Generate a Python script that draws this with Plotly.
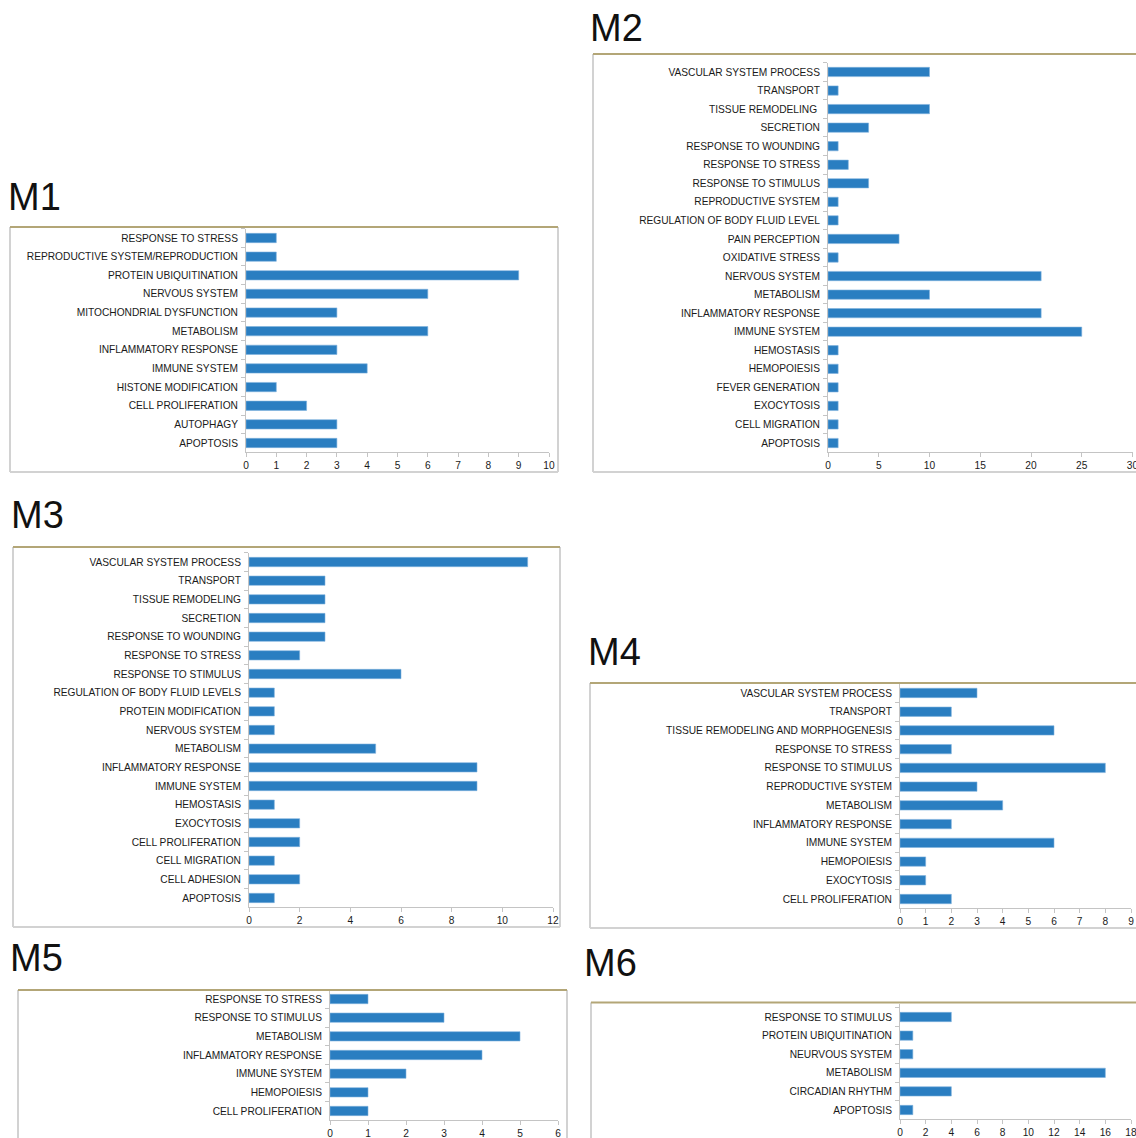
import plotly.graph_objects as go

W, H = 1136, 1138

# ---------------- data (top-to-bottom order as displayed) ----------------
m1_labels = ["RESPONSE TO STRESS", "REPRODUCTIVE SYSTEM/REPRODUCTION", "PROTEIN UBIQUITINATION",
             "NERVOUS SYSTEM", "MITOCHONDRIAL DYSFUNCTION", "METABOLISM", "INFLAMMATORY RESPONSE",
             "IMMUNE SYSTEM", "HISTONE MODIFICATION", "CELL PROLIFERATION", "AUTOPHAGY", "APOPTOSIS"]
m1_values = [1, 1, 9, 6, 3, 6, 3, 4, 1, 2, 3, 3]

m2_labels = ["VASCULAR SYSTEM PROCESS", "TRANSPORT", "TISSUE REMODELING ", "SECRETION",
             "RESPONSE TO WOUNDING", "RESPONSE TO STRESS", "RESPONSE TO STIMULUS",
             "REPRODUCTIVE SYSTEM", "REGULATION OF BODY FLUID LEVEL", "PAIN PERCEPTION",
             "OXIDATIVE STRESS", "NERVOUS SYSTEM", "METABOLISM", "INFLAMMATORY RESPONSE",
             "IMMUNE SYSTEM", "HEMOSTASIS", "HEMOPOIESIS", "FEVER GENERATION", "EXOCYTOSIS",
             "CELL MIGRATION", "APOPTOSIS"]
m2_values = [10, 1, 10, 4, 1, 2, 4, 1, 1, 7, 1, 21, 10, 21, 25, 1, 1, 1, 1, 1, 1]

m3_labels = ["VASCULAR SYSTEM PROCESS", "TRANSPORT", "TISSUE REMODELING", "SECRETION",
             "RESPONSE TO WOUNDING", "RESPONSE TO STRESS", "RESPONSE TO STIMULUS",
             "REGULATION OF BODY FLUID LEVELS", "PROTEIN MODIFICATION", "NERVOUS SYSTEM",
             "METABOLISM", "INFLAMMATORY RESPONSE", "IMMUNE SYSTEM", "HEMOSTASIS", "EXOCYTOSIS",
             "CELL PROLIFERATION", "CELL MIGRATION", "CELL ADHESION", "APOPTOSIS"]
m3_values = [11, 3, 3, 3, 3, 2, 6, 1, 1, 1, 5, 9, 9, 1, 2, 2, 1, 2, 1]

m4_labels = ["VASCULAR SYSTEM PROCESS", "TRANSPORT", "TISSUE REMODELING AND MORPHOGENESIS",
             "RESPONSE TO STRESS", "RESPONSE TO STIMULUS", "REPRODUCTIVE SYSTEM", "METABOLISM",
             "INFLAMMATORY RESPONSE", "IMMUNE SYSTEM", "HEMOPOIESIS", "EXOCYTOSIS",
             "CELL PROLIFERATION"]
m4_values = [3, 2, 6, 2, 8, 3, 4, 2, 6, 1, 1, 2]

m5_labels = ["RESPONSE TO STRESS", "RESPONSE TO STIMULUS", "METABOLISM", "INFLAMMATORY RESPONSE",
             "IMMUNE SYSTEM", "HEMOPOIESIS", "CELL PROLIFERATION"]
m5_values = [1, 3, 5, 4, 2, 1, 1]

m6_labels = ["RESPONSE TO STIMULUS", "PROTEIN UBIQUITINATION", "NEURVOUS SYSTEM", "METABOLISM",
             "CIRCADIAN RHYTHM", "APOPTOSIS"]
m6_values = [4, 1, 1, 16, 4, 1]

titles = ["M1", "M2", "M3", "M4", "M5", "M6"]
x_max = [10, 30, 12, 9, 6, 18]
x_dtick = [1, 5, 2, 1, 1, 2]

# ---------------- layout geometry (pixels) ----------------
# plot area: x0, x1, top, bottom, extra top pad (category units)
areas = [
    (246, 549, 228.7, 452.3, 0.0),
    (828, 1132.5, 62.7, 452.3, 0.0),
    (249, 553, 552.7, 907.3, 0.0),
    (900, 1131, 683.6, 908.4, 0.0),
    (330, 558, 989.7, 1120.3, 0.0),
    (900, 1131, 1004, 1119.3, 0.2),
]
# frames: left, top, right, bottom
frames = [
    (10, 227, 558, 472),
    (593, 54, 1140, 472),
    (13, 547, 560, 927),
    (590, 683, 1140, 928),
    (18, 990, 567, 1145),
    (591, 1002.5, 1140, 1145),
]
title_pos = [(6, 197), (588, 28), (9, 515), (586, 652), (8, 958), (582, 963)]

BAR = "#2a7ec1"
AXIS = "#c4c4c4"
FONT = "Liberation Sans, Arial, sans-serif"
LBL = 10.2

data = [(m1_labels, m1_values), (m2_labels, m2_values), (m3_labels, m3_values),
        (m4_labels, m4_values), (m5_labels, m5_values), (m6_labels, m6_values)]

fig = go.Figure()
layout = dict(
    width=W, height=H, margin=dict(l=0, r=0, t=0, b=0, autoexpand=False),
    paper_bgcolor="white", plot_bgcolor="white",
    showlegend=False, bargap=0.5,
    font=dict(family=FONT, size=LBL, color="#1a1a1a"),
)
shapes = []
annotations = []

for i, ((labels, values), (x0, x1, top, bot, pad), fr, tp) in enumerate(
        zip(data, areas, frames, title_pos)):
    k = "" if i == 0 else str(i + 1)
    fig.add_trace(go.Bar(
        x=values, y=labels, orientation="h",
        marker=dict(color=BAR, line=dict(color="#7fb2de", width=0.6)),
        xaxis="x" + k, yaxis="y" + k, hoverinfo="x+y",
    ))
    n = len(labels)
    layout["xaxis" + k] = dict(
        domain=[x0 / W, x1 / W], anchor="y" + k, range=[0, x_max[i]],
        dtick=x_dtick[i], tick0=0, showgrid=False, zeroline=False,
        showline=True, linecolor=AXIS, linewidth=1,
        ticks="outside", ticklen=4, tickcolor=AXIS, ticklabelstandoff=-1,
        ticklabeloverflow="allow",
        tickfont=dict(family=FONT, size=LBL, color="#1a1a1a"),
        fixedrange=True, automargin=False,
    )
    layout["yaxis" + k] = dict(
        domain=[1 - bot / H, 1 - top / H], anchor="x" + k,
        type="category", categoryorder="array", categoryarray=labels,
        range=[n - 0.5, -0.5 - pad],
        showgrid=False, zeroline=False,
        showline=True, linecolor=AXIS, linewidth=1,
        ticks="outside", ticklen=4, tickcolor=AXIS, tickson="boundaries",
        ticklabelstandoff=5,
        tickfont=dict(family=FONT, size=LBL, color="#1a1a1a"),
        fixedrange=True, automargin=False,
    )
    L, T, R, B = fr
    for (xa, ya, xb, yb) in [(L, T, L, B), (R, T, R, B), (L, B, R, B)]:
        shapes.append(dict(type="line", xref="paper", yref="paper",
                           x0=xa / W, y0=1 - ya / H, x1=xb / W, y1=1 - yb / H,
                           line=dict(color="#d2d2d2", width=2), layer="below"))
    shapes.append(dict(type="line", xref="paper", yref="paper",
                       x0=L / W, y0=1 - T / H, x1=R / W, y1=1 - T / H,
                       line=dict(color="#b3a677", width=2)))
    annotations.append(dict(
        text=titles[i], xref="paper", yref="paper", x=tp[0] / W, y=1 - tp[1] / H,
        xanchor="left", yanchor="middle", showarrow=False,
        font=dict(family=FONT, size=38, color="#111111"),
    ))

layout["shapes"] = shapes
layout["annotations"] = annotations
fig.update_layout(**layout)
fig.write_html(
    "out.html",
    config={"displayModeBar": False},
    post_script="document.body.style.margin='0';document.body.style.overflow='hidden';",
)
